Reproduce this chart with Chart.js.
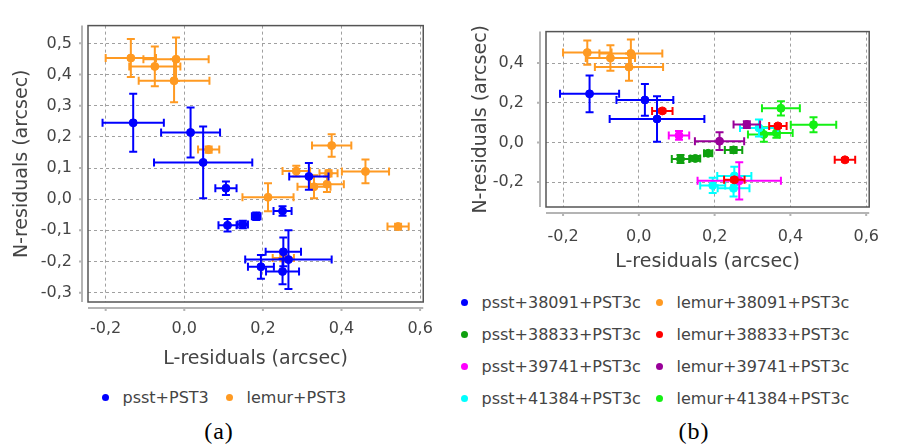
<!DOCTYPE html>
<html>
<head>
<meta charset="utf-8">
<script src="https://cdn.jsdelivr.net/npm/chart.js"></script>
<style>
  body { margin: 0; background: #fff; }
  #wrap { position: relative; width: 899px; height: 444px; background: #fff; overflow: hidden; }
  canvas { position: absolute; top: 0; }
  .item { position: absolute; height: 22px; line-height: 22px; display: flex; align-items: center;
          font: 16px "DejaVu Sans", sans-serif; color: #444; white-space: nowrap; }
  .dot { width: 7px; height: 7px; border-radius: 50%; margin-right: 14px; }
  .cap { position: absolute; width: 80px; text-align: center; font: 24px "Liberation Serif", "Times New Roman", serif;
         color: #000; letter-spacing: 1px; line-height: 28px; }
</style>
</head>
<body>
<div id="wrap">
  <canvas id="chartA" width="450" height="380" style="left:0"></canvas>
  <canvas id="chartB" width="449" height="275" style="left:450px"></canvas>
  <div class="cap" style="left:179px;top:417px">(a)</div>
  <div class="cap" style="left:654px;top:417px">(b)</div>
</div>
<script>
// each row: [L, N, errL, errN] in arcsec
const psst38091 = [
  [-0.130, 0.245, 0.078, 0.093],
  [0.016, 0.214, 0.075, 0.080],
  [0.048, 0.118, 0.125, 0.115]
];
const psst38833 = [
  [0.110, -0.084, 0.023, 0.020],
  [0.149, -0.081, 0.013, 0.012],
  [0.183, -0.055, 0.011, 0.012],
  [0.250, -0.038, 0.023, 0.015]
];
const psst39741 = [
  [0.106, 0.035, 0.027, 0.022],
  [0.265, -0.194, 0.110, 0.094]
];
const psst41384 = [
  [0.317, 0.073, 0.050, 0.043],
  [0.252, -0.169, 0.045, 0.046],
  [0.195, -0.217, 0.033, 0.038],
  [0.250, -0.232, 0.042, 0.041]
];
const lemur38091 = [
  [-0.136, 0.453, 0.064, 0.061],
  [-0.075, 0.426, 0.065, 0.064],
  [-0.021, 0.449, 0.083, 0.070],
  [-0.026, 0.380, 0.090, 0.069]
];
const lemur38833 = [
  [0.062, 0.159, 0.027, 0.010],
  [0.367, 0.083, 0.023, 0.010],
  [0.544, -0.088, 0.027, 0.009],
  [0.252, -0.189, 0.027, 0.010]
];
const lemur39741 = [
  [0.285, 0.090, 0.035, 0.017],
  [0.213, 0.006, 0.065, 0.045]
];
const lemur41384 = [
  [0.375, 0.172, 0.050, 0.036],
  [0.461, 0.089, 0.060, 0.038],
  [0.330, 0.040, 0.042, 0.037],
  [0.363, 0.048, 0.043, 0.025]
];

const psstNames = ['psst+38091+PST3c', 'psst+38833+PST3c', 'psst+39741+PST3c', 'psst+41384+PST3c'];
const lemurNames = ['lemur+38091+PST3c', 'lemur+38833+PST3c', 'lemur+39741+PST3c', 'lemur+41384+PST3c'];
const psstColors = ['#0000ff', '#0fa00f', '#ff00ff', '#00ffff'];
const lemurColors = ['#ff9a22', '#ff0000', '#990099', '#14f014'];
const panelANames = ['psst+PST3', 'lemur+PST3'];
const panelAColors = ['#0000ff', '#ff9a22'];

const xTicks = [-0.2, 0.0, 0.2, 0.4, 0.6];
const yTicksA = [0.5, 0.4, 0.3, 0.2, 0.1, 0.0, -0.1, -0.2, -0.3];
const yTicksB = [0.4, 0.2, 0.0, -0.2];
const xTitle = 'L-residuals (arcsec)';
const yTitle = 'N-residuals (arcsec)';

const psstAll = [psst38091, psst38833, psst39741, psst41384];
const lemurAll = [lemur38091, lemur38833, lemur39741, lemur41384];

// error bars under each dataset's points
const errorBars = {
  id: 'errorBars',
  beforeDatasetDraw(chart, args) {
    const ds = chart.data.datasets[args.index];
    const sx = chart.scales.x, sy = chart.scales.y;
    const ctx = chart.ctx;
    const c = 4;
    ctx.save();
    ctx.strokeStyle = ds.borderColor;
    ctx.lineWidth = 2;
    ds.data.forEach(p => {
      const cx = sx.getPixelForValue(p.x), cy = sy.getPixelForValue(p.y);
      const x0 = sx.getPixelForValue(p.x - p.dx), x1 = sx.getPixelForValue(p.x + p.dx);
      const y0 = sy.getPixelForValue(p.y - p.dy), y1 = sy.getPixelForValue(p.y + p.dy);
      ctx.beginPath();
      ctx.moveTo(x0, cy); ctx.lineTo(x1, cy);
      ctx.moveTo(x0, cy - c); ctx.lineTo(x0, cy + c);
      ctx.moveTo(x1, cy - c); ctx.lineTo(x1, cy + c);
      ctx.moveTo(cx, y0); ctx.lineTo(cx, y1);
      ctx.moveTo(cx - c, y0); ctx.lineTo(cx + c, y0);
      ctx.moveTo(cx - c, y1); ctx.lineTo(cx + c, y1);
      ctx.stroke();
    });
    ctx.restore();
  }
};

// plot box + detached axis lines (jfreechart look)
const frame = {
  id: 'frame',
  beforeDatasetsDraw(chart, args, opts) {
    const {ctx, chartArea: a} = chart;
    const g = opts.gap;
    ctx.save();
    ctx.strokeStyle = '#555';
    ctx.lineWidth = 1.5;
    ctx.strokeRect(a.left, a.top, a.right - a.left, a.bottom - a.top);
    ctx.strokeStyle = '#b4b4b4';
    ctx.lineWidth = 2;
    ctx.beginPath();
    ctx.moveTo(a.left - g, a.top); ctx.lineTo(a.left - g, a.bottom);
    ctx.moveTo(a.left, a.bottom + g); ctx.lineTo(a.right, a.bottom + g);
    chart.scales.x.ticks.forEach(t => {
      const px = chart.scales.x.getPixelForValue(t.value);
      ctx.moveTo(px, a.bottom + g); ctx.lineTo(px, a.bottom + g + 3);
    });
    chart.scales.y.ticks.forEach(t => {
      const py = chart.scales.y.getPixelForValue(t.value);
      ctx.moveTo(a.left - g, py); ctx.lineTo(a.left - g - 3, py);
    });
    ctx.stroke();
    ctx.restore();
  }
};

const fmt = v => v.toFixed(1).replace('.', ',');

function toPoints(rows) {
  return rows.map(r => ({x: r[0], y: r[1], dx: r[2], dy: r[3]}));
}

function makePanel(id, sets, o) {
  return new Chart(document.getElementById(id), {
    type: 'scatter',
    data: {
      datasets: sets.map(s => ({
        label: s.label,
        data: toPoints(s.rows),
        backgroundColor: s.color,
        borderColor: s.color,
        pointRadius: 4,
        pointBorderWidth: 1,
        pointHoverRadius: 4
      }))
    },
    options: {
      responsive: false,
      animation: false,
      events: [],
      layout: {padding: {top: o.top, right: o.right, bottom: 0, left: 0}},
      plugins: {legend: {display: false}, tooltip: {enabled: false}, frame: {gap: o.gap}},
      scales: {
        x: {
          type: 'linear', min: -0.245, max: 0.608,
          afterBuildTicks: s => { s.ticks = xTicks.map(v => ({value: v})); },
          afterFit: s => { s.height = o.xHeight; },
          border: {display: false, dash: [3, 3]},
          grid: {color: '#a0a0a0', lineWidth: 1, drawTicks: false},
          ticks: {callback: fmt, padding: o.xPad, color: '#444', maxRotation: 0,
                  font: {family: 'DejaVu Sans', size: 16}},
          title: {display: true, text: xTitle, color: '#444', padding: {top: 0, bottom: o.xTitlePad},
                  font: {family: 'DejaVu Sans', size: 19}}
        },
        y: {
          type: 'linear', min: o.yMin, max: o.yMax,
          afterBuildTicks: s => { s.ticks = o.yTicks.map(v => ({value: v})); },
          afterFit: s => { s.width = o.yWidth; },
          border: {display: false, dash: [3, 3]},
          grid: {color: '#a0a0a0', lineWidth: 1, drawTicks: false},
          ticks: {callback: fmt, padding: o.yPad, color: '#444',
                  font: {family: 'DejaVu Sans', size: 16}},
          title: {display: true, text: yTitle, color: '#444', padding: {top: o.yTitlePad, bottom: 0},
                  font: {family: 'DejaVu Sans', size: 19}}
        }
      }
    },
    plugins: [errorBars, frame]
  });
}

makePanel('chartA', [
  {label: panelANames[0], color: panelAColors[0], rows: [].concat(...psstAll)},
  {label: panelANames[1], color: panelAColors[1], rows: [].concat(...lemurAll)}
], {top: 9, right: 19, xHeight: 78, yWidth: 88, xPad: 17, yPad: 16, xTitlePad: 10, yTitlePad: 11,
    yMin: -0.33, yMax: 0.557, yTicks: yTicksA, gap: 6});

const setsB = [];
for (let i = 0; i < 4; i++) {
  setsB.push({label: psstNames[i], color: psstColors[i], rows: psstAll[i]});
  setsB.push({label: lemurNames[i], color: lemurColors[i], rows: lemurAll[i]});
}
makePanel('chartB', setsB,
  {top: 11, right: 11, xHeight: 68, yWidth: 96, xPad: 20, yPad: 22, xTitlePad: 2, yTitlePad: 20,
   yMin: -0.326, yMax: 0.559, yTicks: yTicksB, gap: 6});

// html legends
const wrap = document.getElementById('wrap');
function addItem(label, color, cx, cy) {
  const d = document.createElement('div');
  d.className = 'item';
  d.style.left = (cx - 3.5) + 'px';
  d.style.top = (cy - 11) + 'px';
  const dot = document.createElement('span');
  dot.className = 'dot';
  dot.style.background = color;
  d.appendChild(dot);
  d.appendChild(document.createTextNode(label));
  wrap.appendChild(d);
}
addItem(panelANames[0], panelAColors[0], 105, 397);
addItem(panelANames[1], panelAColors[1], 229, 397);
const rowsB = [302, 334, 366, 398];
for (let i = 0; i < 4; i++) {
  addItem(psstNames[i], psstColors[i], 464, rowsB[i]);
  addItem(lemurNames[i], lemurColors[i], 659, rowsB[i]);
}
</script>
</body>
</html>
